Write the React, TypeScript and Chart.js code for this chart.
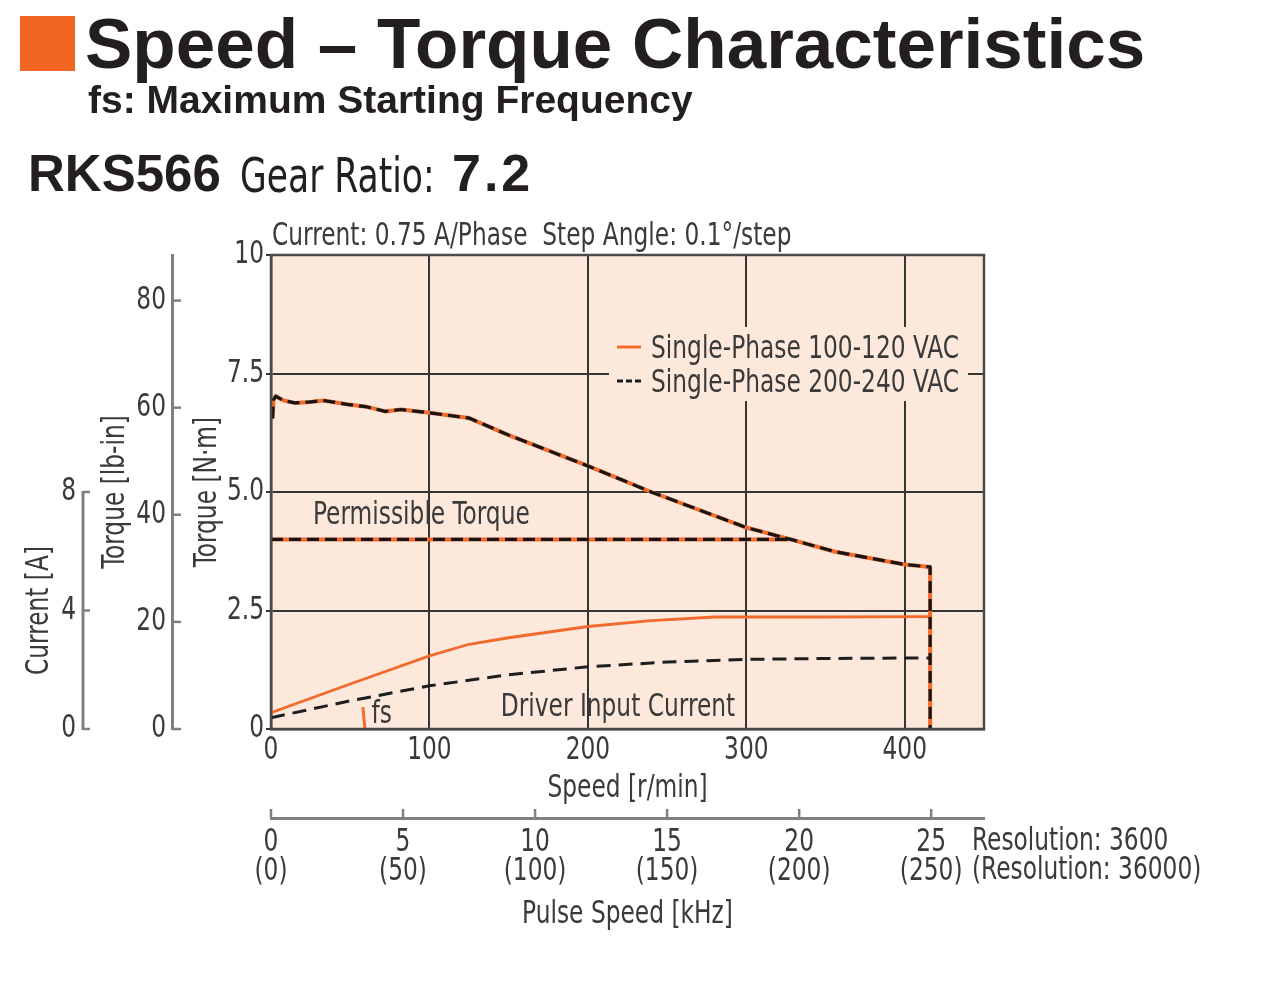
import React, { useEffect, useRef } from 'react';
import { Chart, registerables } from 'chart.js';

Chart.register(...registerables);

const NARROW = '"Liberation Sans Narrow", "Arial Narrow", "DejaVu Sans Condensed", sans-serif';
const SANS = '"Liberation Sans", Arial, Helvetica, sans-serif';
const SQUEEZE = 0.81;

const ORANGE = '#F26A2C';
const SQUARE = '#F26522';
const PEACH = '#FCE9DC';
const INK = '#3a3a3a';
const HEAD = '#231f20';
const GRID = '#353535';
const FRAME = '#4a4a4a';
const AXIS = '#808080';

// ---- axes / ticks ----
const speedTicks = [0, 100, 200, 300, 400];
const torqueTicks = [0, 2.5, 5, 7.5, 10];
const lbinTicks = [0, 20, 40, 60, 80];
const currentTicks = [0, 4, 8];
const pulseTicks = [0, 5, 10, 15, 20, 25];
const pulseTicksHiRes = [0, 50, 100, 150, 200, 250];

const SPEED_MAX = 450;
const TORQUE_MAX = 10;
const LBIN_MAX = 88.507;
const CURRENT_MAX = 16;
const PULSE_MAX = 27;

// ---- series names ----
const SERIES_100 = 'Single-Phase 100-120 VAC';
const SERIES_200 = 'Single-Phase 200-240 VAC';

// ---- torque (N·m) vs speed (r/min) ----
const torqueSpeed100 = [1, 1.6, 3, 8, 15, 25, 33, 48, 60, 72, 82, 100, 125, 150, 200, 240, 300, 328, 356, 400, 416, 416];
const torque100 = [6.55, 6.95, 7.02, 6.93, 6.88, 6.9, 6.93, 6.85, 6.8, 6.7, 6.74, 6.67, 6.56, 6.2, 5.55, 5.0, 4.25, 4.0, 3.74, 3.47, 3.42, 0];
const torqueSpeed200 = [1, 1.6, 3, 8, 15, 25, 33, 48, 60, 72, 82, 100, 125, 150, 200, 240, 300, 328, 356, 400, 416, 416];
const torque200 = [6.55, 6.95, 7.02, 6.93, 6.88, 6.9, 6.93, 6.85, 6.8, 6.7, 6.74, 6.67, 6.56, 6.2, 5.55, 5.0, 4.25, 4.0, 3.74, 3.47, 3.42, 0];

// ---- permissible torque ----
const permSpeed = [0, 327];
const permTorque = [4.0, 4.0];

// ---- driver input current (A) ----
const currentSpeed100 = [0, 50, 100, 125, 150, 200, 240, 280, 350, 416];
const current100 = [0.55, 1.52, 2.47, 2.86, 3.08, 3.46, 3.66, 3.78, 3.78, 3.79];
const currentSpeed200 = [0, 50, 100, 150, 200, 250, 300, 350, 416];
const current200 = [0.38, 0.95, 1.46, 1.83, 2.1, 2.26, 2.35, 2.38, 2.4];

// ---- fs marker ----
const fsSpeed = [58, 59.3];
const fsTorque = [0.46, 0];

const pts = (xs: number[], ys: number[]) => xs.map((x, i) => ({ x, y: ys[i] }));

const tickFont = { family: NARROW, size: 32, lineHeight: 1 };
const titleFont = { family: NARROW, size: 32, lineHeight: 1.2 };

const decor = {
  id: 'decor',
  beforeInit(chart: any) {
    // condensed lettering: squeeze every text run horizontally around its anchor
    const ctx = chart.ctx;
    if (ctx.__squeezed) return;
    const orig = ctx.fillText.bind(ctx);
    ctx.fillText = (text: string, x: number, y: number, maxWidth?: number) => {
      ctx.save();
      ctx.translate(x, y);
      ctx.scale(SQUEEZE, 1);
      if (maxWidth !== undefined) orig(text, 0, 0, maxWidth / SQUEEZE);
      else orig(text, 0, 0);
      ctx.restore();
    };
    ctx.__squeezed = true;
  },
  beforeDraw(chart: any) {
    const { ctx, chartArea: a } = chart;
    ctx.save();
    ctx.fillStyle = PEACH;
    ctx.fillRect(a.left, a.top, a.right - a.left, a.bottom - a.top);
    ctx.restore();
  },
  afterDatasetsDraw(chart: any) {
    const { ctx, chartArea: a, scales } = chart;
    const x = scales.x;
    const y = scales.y;
    ctx.save();
    // legend box
    ctx.fillStyle = PEACH;
    ctx.fillRect(a.right - 375, a.top + 72, 359, 74);
    ctx.font = `32px ${NARROW}`;
    ctx.fillStyle = INK;
    ctx.textBaseline = 'middle';
    ctx.textAlign = 'left';
    ctx.lineCap = 'butt';
    ctx.strokeStyle = ORANGE;
    ctx.lineWidth = 3;
    ctx.beginPath();
    ctx.moveTo(a.right - 367, a.top + 92);
    ctx.lineTo(a.right - 343, a.top + 92);
    ctx.stroke();
    ctx.fillText(SERIES_100, a.right - 333, a.top + 95);
    ctx.strokeStyle = '#1a1a1a';
    ctx.setLineDash([6, 3]);
    ctx.beginPath();
    ctx.moveTo(a.right - 367, a.top + 126);
    ctx.lineTo(a.right - 342, a.top + 126);
    ctx.stroke();
    ctx.setLineDash([]);
    ctx.fillText(SERIES_200, a.right - 333, a.top + 129);
    // annotations
    ctx.fillText('Permissible Torque', x.getPixelForValue(26.5), y.getPixelForValue(4.5));
    ctx.fillText('Driver Input Current', x.getPixelForValue(145), y.getPixelForValue(0.44));
    ctx.fillText('fs', x.getPixelForValue(63.5), y.getPixelForValue(0.3));
    ctx.restore();
  },
  afterDraw(chart: any) {
    const { ctx, chartArea: a, scales } = chart;
    ctx.save();
    // frame
    ctx.strokeStyle = FRAME;
    ctx.lineWidth = 2.5;
    ctx.strokeRect(a.left, a.top, a.right - a.left, a.bottom - a.top);
    // lb-in ticks
    ctx.strokeStyle = AXIS;
    ctx.lineWidth = 2.5;
    const yL = scales.yL;
    yL.ticks.forEach((t: any) => {
      const p = yL.getPixelForValue(t.value);
      ctx.beginPath();
      ctx.moveTo(yL.right, p);
      ctx.lineTo(yL.right + 9, p);
      ctx.stroke();
    });
    // current axis line + ticks
    const yA = scales.yA;
    ctx.lineWidth = 3;
    ctx.beginPath();
    ctx.moveTo(yA.right, yA.getPixelForValue(0) + 1);
    ctx.lineTo(yA.right, yA.getPixelForValue(8) - 1);
    ctx.stroke();
    ctx.lineWidth = 2.5;
    yA.ticks.forEach((t: any) => {
      const p = yA.getPixelForValue(t.value);
      ctx.beginPath();
      ctx.moveTo(yA.right, p);
      ctx.lineTo(yA.right + 7, p);
      ctx.stroke();
    });
    // pulse ticks (upward)
    const x2 = scales.x2;
    x2.ticks.forEach((t: any) => {
      const p = x2.getPixelForValue(t.value);
      ctx.beginPath();
      ctx.moveTo(p, x2.top);
      ctx.lineTo(p, x2.top - 9);
      ctx.stroke();
    });
    // texts
    ctx.fillStyle = INK;
    ctx.font = `32px ${NARROW}`;
    ctx.textBaseline = 'middle';
    ctx.textAlign = 'left';
    ctx.fillText('Current: 0.75 A/Phase  Step Angle: 0.1°/step', a.left + 1, a.top - 18);
    ctx.fillText('Resolution: 3600', a.right - 12, x2.top + 24);
    ctx.fillText('(Resolution: 36000)', a.right - 12, x2.top + 53);
    // current title
    ctx.translate(yA.left + 40, yA.getPixelForValue(4));
    ctx.rotate(-Math.PI / 2);
    ctx.textAlign = 'center';
    ctx.fillText('Current [A]', 0, 0);
    ctx.restore();
  },
};

export default function App() {
  const ref = useRef<HTMLCanvasElement>(null);

  useEffect(() => {
    const canvas = ref.current;
    if (!canvas) return;
    const chart = new Chart(canvas, {
      type: 'line',
      data: {
        datasets: [
          { label: SERIES_200, data: pts(torqueSpeed200, torque200), yAxisID: 'y', borderColor: '#161616', borderWidth: 3.2, borderDash: [12, 6], order: 0 },
          { label: SERIES_200 + ' permissible', data: pts(permSpeed, permTorque), yAxisID: 'y', borderColor: '#161616', borderWidth: 3.2, borderDash: [12, 6], order: 0 },
          { label: SERIES_200 + ' current', data: pts(currentSpeed200, current200), yAxisID: 'yA', borderColor: '#1e1e1e', borderWidth: 3, borderDash: [14, 8], order: 0 },
          { label: SERIES_100, data: pts(torqueSpeed100, torque100), yAxisID: 'y', borderColor: ORANGE, borderWidth: 4, order: 1 },
          { label: SERIES_100 + ' permissible', data: pts(permSpeed, permTorque), yAxisID: 'y', borderColor: ORANGE, borderWidth: 4, order: 1 },
          { label: SERIES_100 + ' current', data: pts(currentSpeed100, current100), yAxisID: 'yA', borderColor: ORANGE, borderWidth: 2.8, order: 1 },
          { label: 'fs', data: pts(fsSpeed, fsTorque), yAxisID: 'y', borderColor: ORANGE, borderWidth: 3, order: 1 },
        ] as any,
      },
      options: {
        animation: false,
        responsive: false,
        events: [],
        layout: { padding: { left: 0, top: 255, right: 296, bottom: 64 } },
        elements: { point: { radius: 0 }, line: { tension: 0, borderCapStyle: 'butt', borderJoinStyle: 'round' } },
        plugins: { legend: { display: false }, tooltip: { enabled: false }, title: { display: false } },
        scales: {
          x: {
            type: 'linear', position: 'bottom', min: 0, max: SPEED_MAX, weight: 0,
            afterBuildTicks: (s: any) => { s.ticks = speedTicks.map((v) => ({ value: v })); },
            afterFit: (s: any) => { s.height = 89; },
            grid: { color: GRID, lineWidth: 2, drawTicks: false },
            border: { color: FRAME, width: 2.5 },
            ticks: { font: tickFont, color: INK, padding: 6, maxRotation: 0, autoSkip: false },
            title: { display: true, text: 'Speed [r/min]', font: titleFont, color: INK, padding: { top: 0, bottom: 10 } },
          },
          x2: {
            type: 'linear', position: 'bottom', min: 0, max: PULSE_MAX, weight: 1,
            afterBuildTicks: (s: any) => { s.ticks = pulseTicks.map((v) => ({ value: v })); },
            afterFit: (s: any) => { s.height = 120; },
            grid: { drawOnChartArea: false, drawTicks: false },
            border: { color: AXIS, width: 3 },
            ticks: {
              font: { family: NARROW, size: 32, lineHeight: '29px' }, color: INK, padding: 10, maxRotation: 0, autoSkip: false,
              callback: (v: any) => {
                const i = pulseTicks.indexOf(Number(v));
                return [String(pulseTicks[i]), `(${pulseTicksHiRes[i]})`];
              },
            },
            title: { display: true, text: 'Pulse Speed [kHz]', font: titleFont, color: INK, padding: { top: 0, bottom: 4 } },
          },
          y: {
            type: 'linear', position: 'left', min: 0, max: TORQUE_MAX, weight: 1,
            afterBuildTicks: (s: any) => { s.ticks = torqueTicks.map((v) => ({ value: v })); },
            afterFit: (s: any) => { s.width = 99; },
            grid: { color: GRID, lineWidth: 2, drawTicks: true, tickLength: 5 },
            border: { color: FRAME, width: 2.5 },
            ticks: {
              font: tickFont, color: INK, padding: 2, autoSkip: false,
              callback: (v: any) => (v === 0 || v === 10 ? String(v) : Number(v).toFixed(1)),
            },
            title: { display: true, text: 'Torque [N·m]', font: titleFont, color: INK, padding: { top: 16, bottom: 0 } },
          },
          yL: {
            type: 'linear', position: 'left', min: 0, max: LBIN_MAX, weight: 2,
            afterBuildTicks: (s: any) => { s.ticks = lbinTicks.map((v) => ({ value: v })); },
            afterFit: (s: any) => { s.width = 89; },
            grid: { drawOnChartArea: false, drawTicks: false },
            border: { color: AXIS, width: 3 },
            ticks: { font: tickFont, color: INK, padding: 6, autoSkip: false },
            title: { display: true, text: 'Torque [lb-in]', font: titleFont, color: INK, padding: { top: 13, bottom: 0 } },
          },
          yA: {
            type: 'linear', position: 'left', min: 0, max: CURRENT_MAX, weight: 3,
            afterBuildTicks: (s: any) => { s.ticks = currentTicks.map((v) => ({ value: v })); },
            afterFit: (s: any) => { s.width = 83; },
            grid: { drawOnChartArea: false, drawTicks: false },
            border: { display: false },
            ticks: { font: tickFont, color: INK, padding: 7, autoSkip: false },
          },
        },
      } as any,
      plugins: [decor],
    });
    return () => chart.destroy();
  }, []);

  const abs = (left: number, top: number, font: string, size: number, extra: any = {}) => ({
    position: 'absolute' as const, left, top, fontFamily: font, fontSize: size, lineHeight: `${size}px`,
    color: HEAD, whiteSpace: 'nowrap' as const, ...extra,
  });

  return (
    <div style={{ position: 'fixed', left: 0, top: 0, width: 1280, height: 1002, background: '#fff', overflow: 'hidden' }}>
      <canvas ref={ref} width={1280} height={1002} style={{ position: 'absolute', left: 0, top: 0 }} />
      <div style={{ position: 'absolute', left: 20, top: 16, width: 55, height: 55, background: SQUARE }} />
      <div style={abs(85, 8, SANS, 71, { fontWeight: 700 })}>Speed – Torque Characteristics</div>
      <div style={abs(88, 80, SANS, 39, { fontWeight: 700 })}>fs: Maximum Starting Frequency</div>
      <div style={abs(28, 148, SANS, 51, { fontWeight: 700 })}>RKS566</div>
      <div style={abs(240, 151, NARROW, 48, { transform: 'scaleX(0.8)', transformOrigin: '0 0' })}>Gear Ratio:</div>
      <div style={abs(452, 147, SANS, 52, { fontWeight: 700, letterSpacing: 3 })}>7.2</div>
    </div>
  );
}
